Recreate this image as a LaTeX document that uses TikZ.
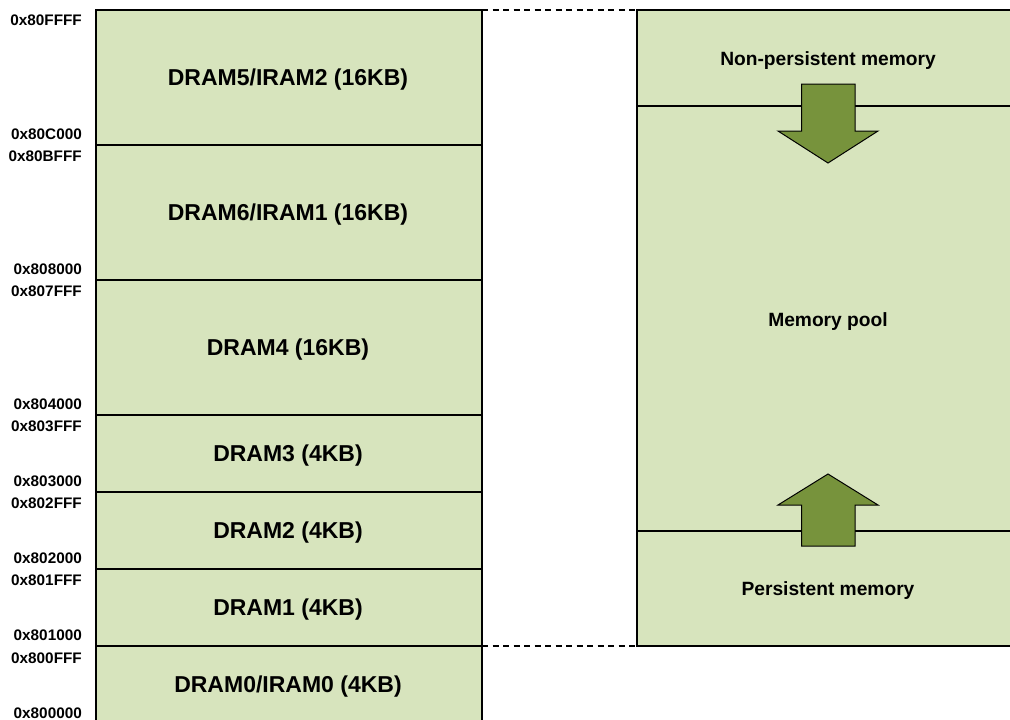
\documentclass[tikz,border=0pt]{standalone}
\usepackage{fontspec}
\setmainfont{Liberation Sans}
\definecolor{blockfill}{HTML}{D7E4BD}
\definecolor{arrowfill}{HTML}{77933C}
\begin{document}
\begin{tikzpicture}[x=1pt,y={(0pt,-1pt)},
  block/.style={draw=black, line width=1.4pt, fill=blockfill, inner sep=0pt, outer sep=0pt,
    minimum width=386pt},
  btext/.style={font=\fontsize{23}{27}\selectfont\bfseries, inner sep=0pt},
  rblock/.style={draw=black, line width=1.4pt, fill=blockfill, inner sep=0pt, outer sep=0pt,
    minimum width=375pt},
  rlabel/.style={font=\fontsize{19.2}{23}\selectfont\bfseries, inner sep=0pt},
  addr/.style={font=\fontsize{15.3}{18}\selectfont\bfseries, anchor=east, inner sep=0pt},
  dashline/.style={dashed, dash pattern=on 6pt off 4.5pt, line width=1.2pt},
  bigarrow/.style={draw=black, line width=1pt, fill=arrowfill}
]
\useasboundingbox (0,0) rectangle (1010,720);
\clip (0,0) rectangle (1010,720);
\fill[white] (0,0) rectangle (1010,720);
% left column
\node[block, minimum height=135pt] (b5) at (289,77.5) {};
\node[block, minimum height=135pt] (b6) at (289,212.5) {};
\node[block, minimum height=135pt] (b4) at (289,347.5) {};
\node[block, minimum height=77pt] (b3) at (289,453.5) {};
\node[block, minimum height=77pt] (b2) at (289,530.5) {};
\node[block, minimum height=77pt] (b1) at (289,607.5) {};
\node[block, minimum height=77pt] (b0) at (289,684.5) {};
\node[btext] (t5) at (288,79.5) {DRAM5/IRAM2 (16KB)};
\node[btext] (t6) at (288,214.5) {DRAM6/IRAM1 (16KB)};
\node[btext] (t4) at (288,350) {DRAM4 (16KB)};
\node[btext] (t3) at (288,455.5) {DRAM3 (4KB)};
\node[btext] (t2) at (288,532.5) {DRAM2 (4KB)};
\node[btext] (t1) at (288,609.5) {DRAM1 (4KB)};
\node[btext] (t0) at (288,687) {DRAM0/IRAM0 (4KB)};
% right column
\node[rblock, minimum height=96pt] (np) at (824.5,58) {};
\node[rblock, minimum height=425pt] (pool) at (824.5,318.5) {};
\node[rblock, minimum height=115pt] (pers) at (824.5,588.5) {};
\node[rlabel] (tnp) at (828,60.5) {Non-persistent memory};
\node[rlabel] (tpool) at (828,321.5) {Memory pool};
\node[rlabel] (tpers) at (828,591) {Persistent memory};
% dashed connectors
\draw[dashline] (b5.north east) -- (np.north west);
\draw[dashline] (b1.south east) -- (pers.south west);
% arrows
\draw[bigarrow] (801.5,84) -- (855,84) -- (855,131) -- (878,131) -- (828,163) -- (778,131) -- (801.5,131) -- cycle;
\draw[bigarrow] (801.5,546) -- (855,546) -- (855,505) -- (878,505) -- (828,474) -- (778,505) -- (801.5,505) -- cycle;
% addresses
\node[addr] (a1) at (82,20) {0x80FFFF};
\node[addr] (a2) at (82,134) {0x80C000};
\node[addr] (a3) at (82,156) {0x80BFFF};
\node[addr] (a4) at (82,269) {0x808000};
\node[addr] (a5) at (82,291) {0x807FFF};
\node[addr] (a6) at (82,404) {0x804000};
\node[addr] (a7) at (82,426) {0x803FFF};
\node[addr] (a8) at (82,481) {0x803000};
\node[addr] (a9) at (82,503) {0x802FFF};
\node[addr] (a10) at (82,558) {0x802000};
\node[addr] (a11) at (82,580) {0x801FFF};
\node[addr] (a12) at (82,635) {0x801000};
\node[addr] (a13) at (82,658) {0x800FFF};
\node[addr] (a14) at (82,713) {0x800000};
\end{tikzpicture}
\end{document}
